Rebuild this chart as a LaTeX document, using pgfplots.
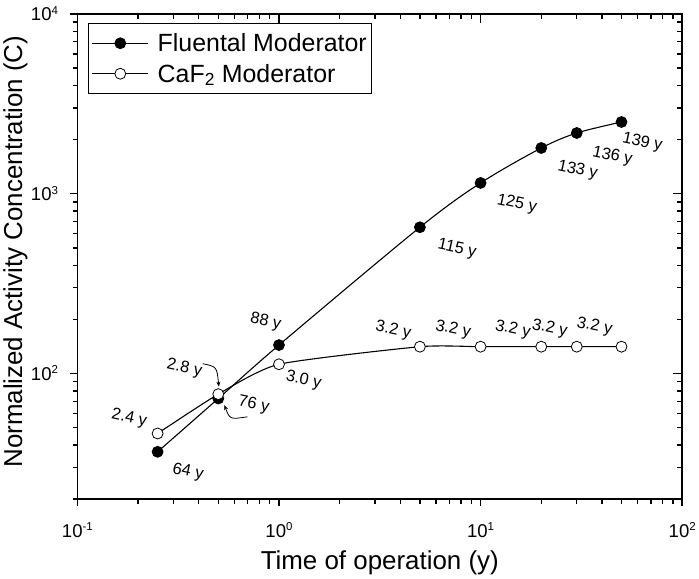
\documentclass[border=0pt]{standalone}
\usepackage{pgfplots}
\pgfplotsset{compat=1.18}
\usepackage{fontspec}
\setmainfont{Liberation Sans}
\usetikzlibrary{arrows.meta}
\newcommand{\sups}[1]{\raisebox{6.3pt}{\fontsize{11.5}{11.5}\selectfont #1}}
\newcommand{\logl}{\pgfmathparse{int(round(\tick/2.302585093))}10\sups{\pgfmathresult}}
\newcommand{\PP}[2]{({#1pt},{581pt-#2pt})}
\begin{document}
\begin{tikzpicture}
\path (0pt,0pt) rectangle (699pt,581pt);
\begin{axis}[
  at={(76pt,80pt)}, anchor=south west,
  width=607pt, height=487pt, scale only axis,
  xmode=log, ymode=log,
  xmin=0.1, xmax=100, ymin=20, ymax=10000,
  axis line style={line width=1.6pt},
  tick style={black, line width=1.4pt},
  tick align=outside, xtick pos=left, ytick pos=left,
  major tick length=7pt, minor tick length=4.5pt,
  xticklabel={\logl}, yticklabel={\logl},
  tick label style={font=\fontsize{18.6}{20}\selectfont},
  xticklabel style={anchor=base, yshift=-31pt},
  yticklabel style={anchor=base east, yshift=-6.6pt, xshift=-9pt},
  xlabel={Time of operation (y)},
  ylabel={Normalized Activity Concentration (C)},
  label style={font=\fontsize{26}{28}\selectfont},
  xlabel style={at={(axis description cs:0.5,0)}, anchor=base, yshift=-70.7pt},
  ylabel style={at={(axis description cs:-0.0914,0.51)}, anchor=base},
  legend cell align=left,
  legend style={at={(rel axis cs:0.018,0.9815)}, anchor=north west,
    draw=black, line width=1.2pt, font=\fontsize{25}{27}\selectfont,
    inner xsep=3pt, inner ysep=8pt, row sep=7pt, column sep=7pt,
    nodes={inner sep=2pt}},
  legend image code/.code={\draw[mark repeat=2,mark phase=2,#1] plot coordinates {(0pt,0pt)(28pt,0pt)(56pt,0pt)};},
]
\addplot[black, line width=1.1pt, smooth, tension=0.5, mark=*, mark size=5.5pt, mark options={fill=black, line width=0.8pt}]
  coordinates {(0.25,36.7)(0.5,72.6)(1,144)(5,651)(10,1148)(20,1797)(30,2177)(50,2506)};
\addlegendentry{Fluental Moderator}
\addplot[black, line width=1.1pt, smooth, tension=0.35, mark=*, mark size=5.5pt, mark options={fill=white, line width=0.8pt}]
  coordinates {(0.25,46.4)(0.5,76.8)(1,112.6)(5,141)(10,141)(20,141)(30,141)(50,141)};
\addlegendentry{CaF\textsubscript{2} Moderator}
\end{axis}
\begin{axis}[
  at={(76pt,80pt)}, anchor=south west,
  width=607pt, height=487pt, scale only axis,
  xmode=log, ymode=log,
  xmin=0.1, xmax=100, ymin=20, ymax=10000,
  axis line style={draw=none},
  tick style={black, line width=1.4pt},
  tick align=inside, xtick pos=right, ytick pos=right,
  major tick length=9pt, minor tick length=5pt,
  xticklabels={}, yticklabels={},
]
\addplot[draw=none] coordinates {(1,100)};
\end{axis}
\begin{scope}[font=\fontsize{16.5}{18}\selectfont]
\node[rotate=-12] at \PP{643}{143} {139 y};
\node[rotate=-12] at \PP{613}{157} {136 y};
\node[rotate=-12] at \PP{578}{171} {133 y};
\node[rotate=-12] at \PP{517}{205} {125 y};
\node[rotate=-12] at \PP{457}{250} {115 y};
\node[rotate=-12] at \PP{265}{323} {88 y};
\node[rotate=-12] at \PP{187}{474} {64 y};
\node[rotate=-12] at \PP{253}{406.7} {76 y};
\node[rotate=-12] at \PP{183.3}{370} {2.8 y};
\node[rotate=-12] at \PP{128}{420} {2.4 y};
\node[rotate=-12] at \PP{303}{381.7} {3.0 y};
\node[rotate=-12] at \PP{393}{331.7} {3.2 y};
\node[rotate=-12] at \PP{453}{331} {3.2 y};
\node[rotate=-12] at \PP{513}{331} {3.2 y};
\node[rotate=-12] at \PP{550}{330} {3.2 y};
\node[rotate=-12] at \PP{595}{328} {3.2 y};
\end{scope}
\draw[line width=0.8pt, -{Stealth[length=5pt,width=4pt]}] \PP{201.7}{365} .. controls \PP{216}{368} .. \PP{218}{388};
\draw[line width=0.8pt, -{Stealth[length=5pt,width=4pt]}] \PP{246.7}{418.3} .. controls \PP{229}{421} .. \PP{223.5}{406.5};
\end{tikzpicture}
\end{document}
